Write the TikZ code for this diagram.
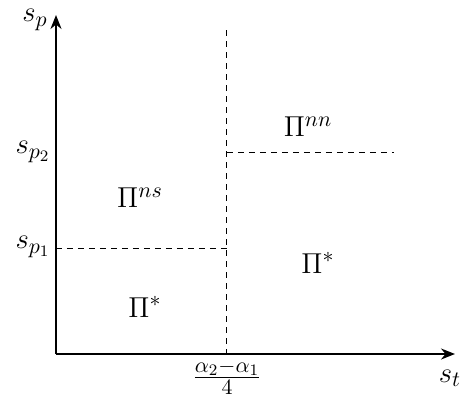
\documentclass[tikz,border=0pt]{standalone}
\usetikzlibrary{arrows.meta}
\begin{document}
\begin{tikzpicture}[x=0.5pt,y=-0.5pt,
  axis/.style={line width=1pt,-{Stealth[length=7pt,width=5.5pt]}},
  dline/.style={line width=0.5pt,dash pattern=on 3pt off 2.5pt},
  lbl/.style={inner sep=0pt,font=\fontsize{15.5}{18}\selectfont}]
\useasboundingbox (0,0) rectangle (462,403);
\coordinate (O) at (56,354);
\coordinate (ytop) at (56,15);
\coordinate (xend) at (455,354);
\coordinate (vtop) at (227,30);
\coordinate (vbot) at (227,354);
\coordinate (p1l) at (56,248);
\coordinate (p1r) at (227,248);
\coordinate (p2l) at (227,152);
\coordinate (p2r) at (394,152);
\draw[dline] (vtop) -- (vbot);
\draw[dline] (p1l) -- (p1r);
\draw[dline] (p2l) -- (p2r);
\draw[axis] (O) -- (ytop);
\draw[axis] (O) -- (xend);
\node[lbl] (sp) at (35,20) {$s_p$};
\node[lbl] (sp2) at (33,152) {$s_{p_2}$};
\node[lbl] (sp1) at (33,247) {$s_{p_1}$};
\node[lbl] (st) at (450,378) {$s_t$};
\node[lbl] (frac) at (227,377) {$\frac{\alpha_2-\alpha_1}{4}$};
\node[lbl] (pinn) at (308,127) {$\Pi^{nn}$};
\node[lbl] (pins) at (140,198) {$\Pi^{ns}$};
\node[lbl] (pis1) at (318,263) {$\Pi^{*}$};
\node[lbl] (pis2) at (145,307) {$\Pi^{*}$};
\end{tikzpicture}
\end{document}
